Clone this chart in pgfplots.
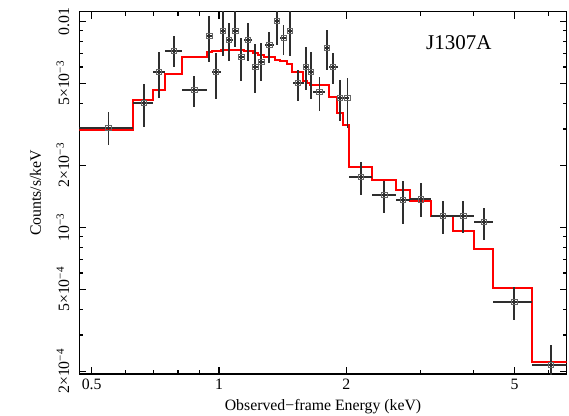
\documentclass[border=0pt]{standalone}
\usepackage{fontspec}
\setmainfont{Liberation Serif}
\usepackage{pgfplots}
\usepackage{pgfplotstable}
\pgfplotsset{compat=1.18}

% binned spectrum: centre, bin edges, value, 1-sigma range
\pgfplotstableread{
x      xlo    xhi    y         ylo       yhi
0.5475 0.42   0.6271 3.044e-3  2.509e-3  3.616e-3
0.6648 0.6271 0.6995 4.026e-3  3.078e-3  4.945e-3
0.7213 0.6995 0.7454 5.654e-3  4.228e-3  7.072e-3
0.7816 0.7454 0.8177 7.176e-3  5.980e-3  8.485e-3
0.8743 0.8177 0.9353 4.640e-3  3.823e-3  5.426e-3
0.9486 0.9353 0.9626 8.485e-3  6.325e-3  1.061e-2
0.9838 0.9626 1.0082 5.674e-3  4.210e-3  6.994e-3
1.0203 1.0082 1.0372 8.973e-3  6.786e-3  1.130e-2
1.0560 1.0372 1.0774 8.116e-3  6.395e-3  9.845e-3
1.0928 1.0774 1.1108 8.973e-3  7.529e-3  1.130e-2
1.1289 1.1108 1.1475 6.710e-3  5.149e-3  8.272e-3
1.1727 1.1475 1.1985 8.089e-3  6.395e-3  9.779e-3
1.2183 1.1985 1.2397 6.000e-3  4.502e-3  7.734e-3
1.2589 1.2397 1.2845 6.367e-3  5.149e-3  7.874e-3
1.3149 1.2845 1.3511 7.674e-3  6.295e-3  8.903e-3
1.3690 1.3511 1.3900 1.0067e-2 7.674e-3  1.130e-2
1.4207 1.3900 1.4504 8.272e-3  6.862e-3  9.594e-3
1.4717 1.4504 1.4987 9.004e-3  6.786e-3  1.130e-2
1.5374 1.4987 1.5886 5.000e-3  4.103e-3  5.802e-3
1.6062 1.5886 1.6282 5.980e-3  4.640e-3  7.479e-3
1.6506 1.6282 1.6713 5.674e-3  4.210e-3  7.120e-3
1.7266 1.6713 1.7806 4.538e-3  3.681e-3  5.348e-3
1.7971 1.7806 1.8230 7.445e-3  5.802e-3  9.075e-3
1.8569 1.8230 1.9080 5.980e-3  4.945e-3  6.994e-3
1.9354 1.9080 1.9673 4.257e-3  3.281e-3  5.188e-3
2.0112 1.9673 2.0331 4.257e-3  3.024e-3  5.288e-3
2.1669 2.0331 2.2961 1.760e-3  1.435e-3  2.082e-3
2.4590 2.2961 2.6167 1.435e-3  1.170e-3  1.684e-3
2.7191 2.6167 2.8290 1.357e-3  1.038e-3  1.684e-3
2.9992 2.8290 3.1659 1.367e-3  1.126e-3  1.635e-3
3.3805 3.1659 3.5810 1.135e-3  9.25e-4   1.342e-3
3.7807 3.5810 4.0004 1.135e-3  9.35e-4   1.342e-3
4.2316 4.0004 4.4515 1.061e-3  8.68e-4   1.245e-3
4.9907 4.4515 5.5055 4.339e-4  3.548e-4  5.148e-4
6.0826 5.5055 6.8    2.146e-4  1.70e-4   2.684e-4
}\spec

% folded model, left bin edge and level
\pgfplotstableread{
x      y
0.42   2.951e-3
0.6271 4.150e-3
0.6995 4.640e-3
0.7454 5.548e-3
0.8177 6.673e-3
0.9353 7.056e-3
0.9626 7.200e-3
1.0082 7.256e-3
1.1475 7.176e-3
1.2000 6.994e-3
1.2386 6.839e-3
1.2808 6.710e-3
1.3564 6.489e-3
1.3939 6.381e-3
1.4504 6.184e-3
1.4855 5.692e-3
1.5826 5.149e-3
1.6174 5.000e-3
1.6415 4.906e-3
1.8230 4.305e-3
1.9044 3.600e-3
1.9606 3.138e-3
2.0275 1.956e-3
2.2961 1.696e-3
2.6167 1.517e-3
2.8290 1.342e-3
3.1659 1.135e-3
3.5810 9.60e-4
4.0004 7.82e-4
4.4515 5.074e-4
5.5055 2.219e-4
6.8    2.219e-4
}\modeltab

\definecolor{modelred}{RGB}{255,0,0}

\begin{document}
\begin{tikzpicture}
\useasboundingbox (-79.3pt,-41pt) rectangle (489.7pt,374pt);
\begin{axis}[
    scale only axis,
    width=487.4pt, height=362.3pt,
    xmode=log, ymode=log,
    xmin=0.4674, xmax=6.637,
    ymin=1.94e-4, ymax=1.113e-2,
    axis line style={line width=1.4pt},
    tick style={line width=1.3pt, black},
    major tick length=7pt, minor tick length=4pt,
    tick align=inside, tick pos=both,
    xtick={0.5,1,2,5},
    xticklabels={0.5,1,2,5},
    minor xtick={0.6,0.7,0.8,0.9,3,4,6},
    ytick={2e-4,5e-4,1e-3,2e-3,5e-3,1e-2},
    yticklabels={2×10\textsuperscript{−4},5×10\textsuperscript{−4},10\textsuperscript{−3},2×10\textsuperscript{−3},5×10\textsuperscript{−3},0.01},
    minor ytick={3e-4,4e-4,6e-4,7e-4,8e-4,9e-4,3e-3,4e-3,6e-3,7e-3,8e-3,9e-3},
    every tick label/.append style={font=\fontsize{15.8}{18}\selectfont},
    xticklabel shift=1.5pt,
    yticklabel style={rotate=90, anchor=south},
    yticklabel shift=6.5pt,
    label style={font=\fontsize{15.8}{18}\selectfont},
    xlabel={Observed−frame Energy (keV)},
    xlabel style={at={(rel axis cs:0.5,0)}, anchor=base, yshift=-36pt},
    ylabel={Counts/s/keV},
    ylabel style={at={(rel axis cs:0,0.5)}, anchor=base, yshift=38.3pt},
]
\addplot[const plot, draw=modelred, mark=none, line width=2pt] table[x=x, y=y] {\modeltab};
\addplot[only marks, mark=square, mark size=2.6pt,
    mark options={draw=black!60, line width=0.8pt},
    error bars/.cd, x dir=both, y dir=both, x explicit, y explicit,
    error mark=none, error bar style={line width=1.7pt, black!82}]
    table[x=x, y=y,
      x error minus expr=\thisrow{x}-\thisrow{xlo},
      x error plus expr=\thisrow{xhi}-\thisrow{x},
      y error minus expr=\thisrow{y}-\thisrow{ylo},
      y error plus expr=\thisrow{yhi}-\thisrow{y}] {\spec};
\node[font=\fontsize{21}{25}\selectfont] at (axis cs:3.69,7.85e-3) {J1307A};
\end{axis}
\end{tikzpicture}
\end{document}
